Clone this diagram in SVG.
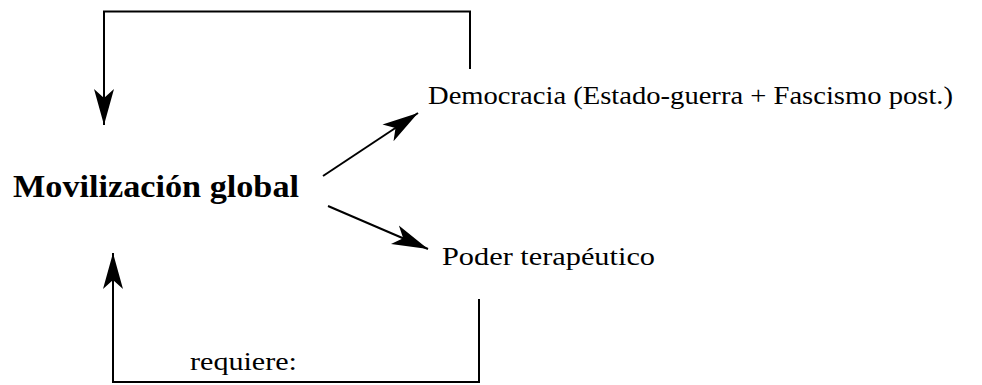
<svg xmlns="http://www.w3.org/2000/svg" width="982" height="385" viewBox="0 0 982 385">
<style>
.lbl{font-family:"Liberation Serif","Times New Roman",serif;font-size:25px;fill:#000}
.main{font-family:"Liberation Serif","Times New Roman",serif;font-size:31px;font-weight:bold;fill:#000}
.conn{fill:none;stroke:#000;stroke-width:2}
</style>
<defs>
<marker id="ah" markerUnits="userSpaceOnUse" viewBox="-36 -11 38 22" refX="0" refY="0" markerWidth="38" markerHeight="22" orient="auto" overflow="visible">
<path d="M0,0 L-36,-10 L-27,0 L-36,10 Z" fill="#000"/>
</marker>
</defs>
<rect width="982" height="385" fill="#fff"/>
<g id="movilizacion"><text class="main" x="13" y="197" textLength="286" lengthAdjust="spacingAndGlyphs">Movilización global</text></g>
<g id="democracia"><text class="lbl" x="428" y="104" textLength="525" lengthAdjust="spacingAndGlyphs">Democracia (Estado-guerra + Fascismo post.)</text></g>
<g id="poder"><text class="lbl" x="442" y="265" textLength="213" lengthAdjust="spacingAndGlyphs">Poder terapéutico</text></g>
<g id="connectors">
<path class="conn" d="M470,69 V11.5 H104 V125" marker-end="url(#ah)"/>
<path class="conn" d="M323,176 L418,113" marker-end="url(#ah)"/>
<path class="conn" d="M328,206 L428,249" marker-end="url(#ah)"/>
<path class="conn" d="M479,299 V382 H113 V253" marker-end="url(#ah)"/>
<text class="lbl" x="190" y="370" textLength="107" lengthAdjust="spacingAndGlyphs">requiere:</text>
</g>
</svg>
